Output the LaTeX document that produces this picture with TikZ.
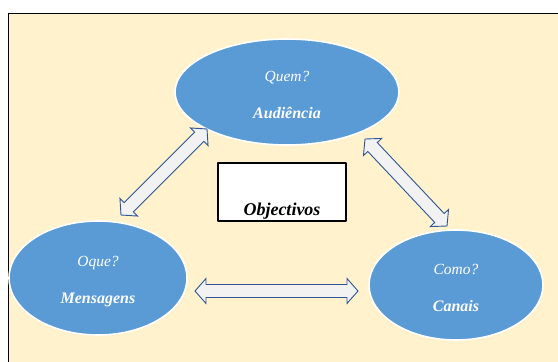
\documentclass[tikz,border=0pt]{standalone}
\usepackage{fontspec}
\setmainfont{Liberation Serif}
\usetikzlibrary{shapes.geometric,calc}
\definecolor{cream}{HTML}{FFF2CC}
\definecolor{bubble}{HTML}{5B9BD5}
\definecolor{arrowline}{HTML}{2F5597}
\definecolor{arrowfill}{HTML}{F2F2F2}
\newcommand\twoway[2]{%
	\draw[twoarrow] (#1)
		-- ($($(#1)!11pt!(#2)$)!12.5pt!90:(#2)$)
		-- ($($(#1)!11pt!(#2)$)!6.5pt!90:(#2)$)
		-- ($($(#2)!11pt!(#1)$)!6.5pt!-90:(#1)$)
		-- ($($(#2)!11pt!(#1)$)!12.5pt!-90:(#1)$)
		-- (#2)
		-- ($($(#2)!11pt!(#1)$)!12.5pt!90:(#1)$)
		-- ($($(#2)!11pt!(#1)$)!6.5pt!90:(#1)$)
		-- ($($(#1)!11pt!(#2)$)!6.5pt!-90:(#2)$)
		-- ($($(#1)!11pt!(#2)$)!12.5pt!-90:(#2)$)
		-- cycle;}
\newcommand\askline[2]{\rule{0pt}{17pt}\itshape #1\\\bfseries\itshape\fontsize{16}{37}\selectfont #2}
\begin{document}
\begin{tikzpicture}[x=1pt,y=-1pt, line join=round,
		bubblenode/.style={ellipse, fill=bubble, draw=white, line width=1.6pt, text=white, align=center, inner sep=0pt, font=\fontsize{15.5}{37}\selectfont},
		twoarrow/.style={draw=arrowline, fill=arrowfill, line width=0.9pt, line join=miter}]
	\useasboundingbox (0,0) rectangle (558,362);
	\fill[cream] (8,13) rectangle (558,362);
	\draw[line width=1pt] (558,13) -- (8,13) -- (8,362);
	\foreach \x in {76,144,207,275,324,392,460}{
		\draw[white, line width=0.7pt] (\x,11.5) -- (\x,13);}
	\node[bubblenode, minimum width=224, minimum height=106] (aud) at (287,92) {\askline{Quem?}{Audiência}};
	\node[bubblenode, minimum width=178, minimum height=114] (msg) at (98,278) {\askline{Oque?}{Mensagens}};
	\node[bubblenode, minimum width=174, minimum height=110] (can) at (456,285) {\askline{Como?}{Canais}};
	\coordinate (am) at (207,129);
	\coordinate (ma) at (121,215);
	\coordinate (ac) at (365,139);
	\coordinate (ca) at (447,226);
	\coordinate (mc) at (195,291);
	\coordinate (cm) at (358,291);
	\twoway{am}{ma}
	\twoway{ac}{ca}
	\twoway{mc}{cm}
	\node[draw, fill=white, line width=1.6pt, minimum width=128, inner sep=0pt, text height=52, text depth=6, font=\fontsize{18}{20}\selectfont\bfseries\itshape] (goal) at (282,192) {Objectivos};
\end{tikzpicture}
\end{document}
